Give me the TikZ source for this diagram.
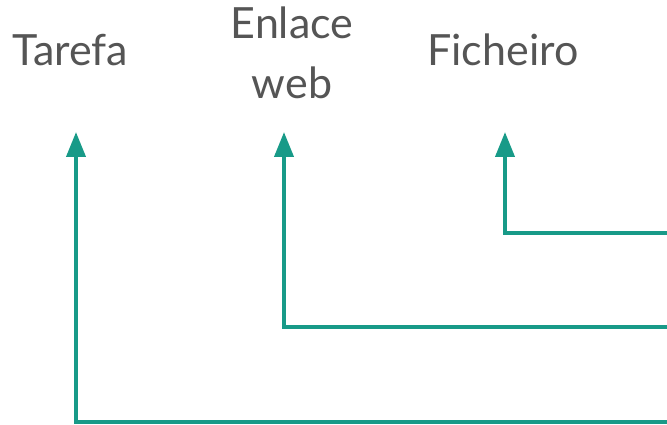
\documentclass[tikz,border=0pt]{standalone}
\usepackage{fontspec}
\setmainfont{Lato}
\usetikzlibrary{arrows.meta}
\definecolor{txtgray}{RGB}{85,85,85}
\definecolor{teal1}{RGB}{24,154,136}
\begin{document}
\begin{tikzpicture}[x=1pt,y=-1pt,
  lbl/.style={font=\fontsize{43}{60}\selectfont, text=txtgray, anchor=base, inner sep=0pt, align=center},
  conn/.style={draw=teal1, line width=4pt, line join=miter, -{Triangle[width=19pt,length=25pt]}}]
\useasboundingbox (0,0) rectangle (667,425);
\node[lbl] (tarefa) at (70.5,66) {Tarefa};
\node[lbl] (enlace) at (292,99) {Enlace\\web};
\node[lbl] (fich) at (503,66) {Ficheiro};
\coordinate (e1) at (667,233);
\coordinate (e2) at (667,327);
\coordinate (e3) at (667,422);
\coordinate (t1) at (505,132);
\coordinate (t2) at (284,132);
\coordinate (t3) at (76,132);
\draw[conn] (e1) -| (t1);
\draw[conn] (e2) -| (t2);
\draw[conn] (e3) -| (t3);
\end{tikzpicture}
\end{document}
